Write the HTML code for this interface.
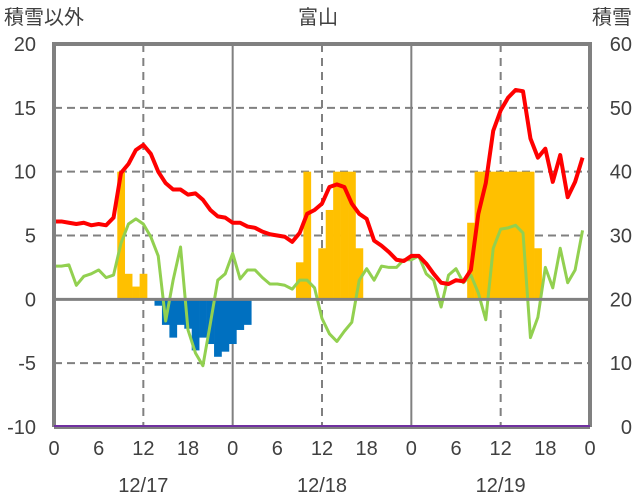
<!DOCTYPE html>
<html><head><meta charset="utf-8"><style>
body{margin:0;background:#fff;}
svg{display:block;font-family:"Liberation Sans","Noto Sans CJK JP",sans-serif;}
text{fill:#404040;font-size:20px;}
</style></head><body>
<svg id="chart" width="636" height="501" viewBox="0 0 636 501" xmlns="http://www.w3.org/2000/svg">
<g id="grid"></g>
<g id="bars"></g>
<g id="lines"></g>
<g id="axes"></g>
<text x="4" y="24">積雪以外</text>
<text x="318" y="24" text-anchor="middle">富山</text>
<text x="632" y="24" text-anchor="end">積雪</text>
</svg>
<script>
const redSeries=[6.1,6.1,6.0,5.9,6.0,5.8,5.9,5.8,6.4,9.9,10.6,11.7,12.1,11.4,10.0,9.1,8.6,8.6,8.2,8.3,7.8,7.0,6.5,6.4,
6.0,6.0,5.7,5.6,5.3,5.1,5.0,4.9,4.5,5.2,6.7,7.0,7.5,8.8,9.0,8.8,7.5,6.7,6.3,4.6,4.2,3.7,3.1,3.0,
3.4,3.4,2.8,2.0,1.3,1.2,1.5,1.4,2.3,6.7,9.1,13.2,14.8,15.8,16.4,16.3,12.6,11.1,11.8,9.2,11.3,8.0,9.2,11.1];
const greenSeries=[2.6,2.6,2.7,1.1,1.8,2.0,2.3,1.7,1.9,4.4,5.9,6.3,5.9,4.9,3.4,-1.7,1.5,4.1,-2.4,-4.2,-5.2,-1.9,1.5,2.0,
3.6,1.6,2.3,2.3,1.7,1.2,1.2,1.1,0.8,1.5,1.5,0.9,-1.5,-2.7,-3.3,-2.5,-1.8,1.5,2.4,1.5,2.6,2.5,2.5,3.1,
3.1,3.4,2.0,1.5,-0.6,1.9,2.4,1.3,1.9,0.5,-1.6,4.0,5.5,5.6,5.8,5.2,-3.0,-1.4,2.5,0.9,4.0,1.3,2.3,5.4];
const barSeries=[0,0,0,0,0,0,0,0,0,10,2,1,2,0,-0.5,-2.0,-3.0,-2.0,-2.3,-4.0,-3.0,-3.5,-4.5,-4.1,
-3.5,-2.4,-2.0,0,0,0,0,0,0,2.9,10,0,4,7,10,10,10,4,0,0,0,0,0,0,
0,0,0,0,0,0,0,0,6,10,10,10,10,10,10,10,10,4,0,0,0,0,0,0];
const leftTicks=[20,15,10,5,0,-5,-10];
const rightTicks=[60,50,40,30,20,10,0];
const hourTicks=["0","6","12","18","0","6","12","18","0","6","12","18","0"];
const dateLabels=["12/17","12/18","12/19"];

const NS="http://www.w3.org/2000/svg";
const X0=54,X1=590,Y0=44,Y1=427;
const xs=h=>X0+h*(X1-X0)/72;
const ys=v=>Y0+(20-v)*(Y1-Y0)/30;
function mk(tag,attrs,parent){const e=document.createElementNS(NS,tag);for(const k in attrs)e.setAttribute(k,attrs[k]);parent.appendChild(e);return e;}
const grid=document.getElementById('grid'),bars=document.getElementById('bars'),lines=document.getElementById('lines'),axes=document.getElementById('axes');

leftTicks.forEach(v=>{
  if(v!==20&&v!==0&&v!==-10){
    const l=mk('line',{x1:X0,x2:X1,y1:ys(v),y2:ys(v),stroke:'#808080','stroke-width':2,'stroke-dasharray':'8,5'},grid);
    
    
  }
  const t=mk('text',{x:36,y:ys(v)+7,'text-anchor':'end'},axes);t.textContent=String(v);
  
  
});
rightTicks.forEach((v,i)=>{
  const t=mk('text',{x:632,y:ys(leftTicks[i])+7,'text-anchor':'end'},axes);t.textContent=String(v);
  
  
});
hourTicks.forEach((s,i)=>{
  const h=i*6;
  if(h>0&&h<72&&h%12===0){
    const solid=h%24===0;
    const l=mk('line',{x1:xs(h),x2:xs(h),y1:Y0,y2:Y1,stroke:'#808080','stroke-width':2},grid);
    if(!solid)l.setAttribute('stroke-dasharray','8,6');
    
    
  }
  const t=mk('text',{x:xs(h),y:455,'text-anchor':'middle'},axes);t.textContent=s;
  
  
});
dateLabels.forEach((s,i)=>{
  const t=mk('text',{x:xs(i*24+12),y:492,'text-anchor':'middle'},axes);t.textContent=s;
  
  
});
const bw=(X1-X0)/72;
barSeries.forEach((v,h)=>{
  if(v===0)return;
  const y=Math.min(ys(v),ys(0)),hh=Math.abs(ys(v)-ys(0));
  const r=mk('rect',{x:xs(h)-bw/2,y:y,width:bw+0.3,height:hh,fill:v>0?'#FFC000':'#0070C0'},bars);
  
  
});
function poly(arr,color,w,name){
  const p=mk('polyline',{points:arr.map((v,h)=>xs(h)+','+ys(v)).join(' '),fill:'none',stroke:color,'stroke-width':w,'stroke-linejoin':'round'},lines);
  
  
}
poly(greenSeries,'#92D050',3,'green-series-line');
poly(redSeries,'#FF0000',4,'red-series-line');
// zero line, frame
const z=mk('line',{x1:X0,x2:X1,y1:ys(0),y2:ys(0),stroke:'#808080','stroke-width':3},axes);


const fr=mk('path',{d:`M${X0},${Y1} V${Y0} H${X1} V${Y1}`,fill:'none',stroke:'#808080','stroke-width':4},axes);


const b=mk('line',{x1:X0,x2:X1,y1:Y1,y2:Y1,stroke:'#808080','stroke-width':4},axes);


const pu=mk('line',{x1:X0,x2:X1,y1:Y1-1,y2:Y1-1,stroke:'#7030A0','stroke-width':2},axes);


</script>
</body></html>
